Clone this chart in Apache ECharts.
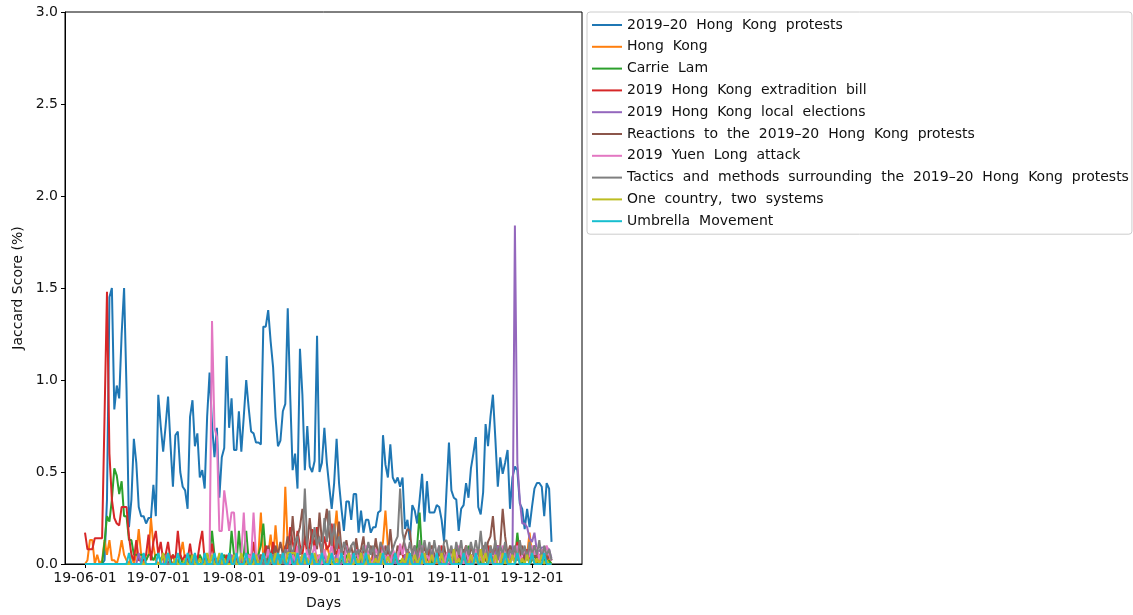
<!DOCTYPE html>
<html>
<head>
<meta charset="utf-8">
<script src="https://cdn.jsdelivr.net/npm/echarts@6/dist/echarts.min.js"></script>
<style>
html,body{margin:0;padding:0;background:#fff;}
#chart{width:1133px;height:615px;}
</style>
</head>
<body>
<div id="chart"></div>
<script>
// Day index 0 = 2019-06-01
const tickDays = [0, 30, 61, 92, 122, 153, 183];
const tickLabels = ['19-06-01', '19-07-01', '19-08-01', '19-09-01', '19-10-01', '19-11-01', '19-12-01'];
const yTicks = ['0.0', '0.5', '1.0', '1.5', '2.0', '2.5', '3.0'];

const seriesNames = [
  '2019–20 Hong Kong protests',
  'Hong Kong',
  'Carrie Lam',
  '2019 Hong Kong extradition bill',
  '2019 Hong Kong local elections',
  'Reactions to the 2019–20 Hong Kong protests',
  '2019 Yuen Long attack',
  'Tactics and methods surrounding the 2019–20 Hong Kong protests',
  'One country, two systems',
  'Umbrella Movement'
];
const colors = ['#1f77b4', '#ff7f0e', '#2ca02c', '#d62728', '#9467bd', '#8c564b', '#e377c2', '#7f7f7f', '#bcbd22', '#17becf'];

const protests = [
  0,0,0,0,0,0,0,0,0.02,0.35,
  1.45,1.50,0.84,0.97,0.90,1.25,1.50,0.95,0.20,0.35,
  0.68,0.55,0.31,0.26,0.26,0.22,0.25,0.25,0.43,0.26,
  0.92,0.75,0.61,0.75,0.91,0.65,0.42,0.70,0.72,0.50,
  0.42,0.40,0.30,0.80,0.89,0.64,0.71,0.47,0.51,0.41,
  0.80,1.04,0.76,0.58,0.74,0.36,0.58,0.63,1.13,0.74,
  0.90,0.62,0.62,0.83,0.61,0.80,1.00,0.85,0.72,0.71,
  0.66,0.66,0.65,1.29,1.29,1.38,1.21,1.07,0.80,0.64,
  0.67,0.83,0.87,1.39,0.92,0.51,0.60,0.41,1.17,0.92,
  0.51,0.75,0.53,0.50,0.56,1.24,0.50,0.55,0.74,0.55,
  0.42,0.30,0.44,0.68,0.44,0.30,0.18,0.34,0.34,0.24,
  0.38,0.38,0.17,0.29,0.17,0.24,0.24,0.17,0.20,0.20,
  0.28,0.29,0.70,0.54,0.47,0.65,0.47,0.44,0.47,0.42,
  0.47,0.19,0.24,0.13,0.32,0.29,0.22,0.35,0.49,0.23,
  0.45,0.28,0.28,0.28,0.32,0.31,0.24,0.12,0.40,0.66,
  0.40,0.36,0.35,0.18,0.30,0.32,0.44,0.36,0.52,0.60,
  0.69,0.31,0.27,0.39,0.76,0.64,0.80,0.92,0.68,0.42,
  0.58,0.49,0.55,0.62,0.30,0.47,0.53,0.51,0.33,0.30,
  0.19,0.30,0.20,0.31,0.41,0.44,0.44,0.42,0.26,0.44,
  0.41,0.12
];
const hongKong = [
  0,0.02,0.13,0.13,0,0.05,0,0.02,0.13,0.05,
  0.13,0.02,0.02,0,0.05,0.13,0.05,0.02,0,0.05,
  0,0.05,0.19,0.05,0,0.02,0.05,0.25,0.1,0.02,
  0,0.02,0.05,0,0.03,0.02,0.05,0,0.02,0.05,
  0.12,0.02,0,0.03,0.05,0,0.02,0.05,0,0.02,
  0,0.05,0.02,0,0.03,0,0.02,0.05,0.02,0,
  0.03,0.05,0.02,0,0.05,0.02,0,0.05,0.05,0.02,
  0,0.05,0.28,0.03,0,0.05,0.16,0.02,0.21,0.05,
  0,0.02,0.42,0.1,0.02,0,0.05,0.02,0,0.05,
  0.02,0,0.05,0.03,0.02,0.05,0,0.02,0.05,0.1,
  0.05,0.02,0.15,0.29,0.1,0.02,0,0.05,0.02,0,
  0.05,0.02,0,0.03,0.02,0.05,0,0.02,0.05,0,
  0.02,0.05,0.12,0.29,0.1,0.02,0,0.05,0.02,0,
  0.03,0.05,0,0.02,0.05,0,0.02,0.05,0,0.02,
  0.05,0,0.02,0.05,0,0.03,0.02,0,0.05,0.02,
  0,0.05,0.02,0,0.03,0.05,0,0.02,0.05,0,
  0.02,0.05,0,0.03,0.02,0.05,0.1,0.02,0,0.05,
  0.02,0,0.05,0.03,0,0.05,0.02,0.1,0.05,0,
  0.02,0.05,0.17,0.05,0.02,0,0.05,0.02,0,0.05,
  0.02,0
];
const carrieLam = [
  0,0,0,0,0,0,0,0,0.12,0.26,
  0.23,0.35,0.52,0.48,0.38,0.45,0.26,0.26,0.13,0.13,
  0.05,0.05,0.05,0.05,0.05,0.02,0.05,0.05,0.02,0.05,
  0.05,0.02,0.05,0.05,0,0.02,0.05,0.02,0,0.05,
  0,0.02,0,0.05,0,0.02,0,0.05,0.02,0,
  0.02,0.05,0.18,0.05,0,0.02,0,0.05,0.02,0,
  0.18,0.05,0,0.18,0.02,0.05,0.18,0.02,0,0.05,
  0.02,0.05,0.1,0.22,0.05,0.02,0,0.1,0.02,0,
  0.05,0.02,0,0.05,0.02,0,0.05,0,0.02,0.05,
  0,0.02,0.05,0,0.02,0,0.05,0.02,0,0.02,
  0.05,0,0.02,0.05,0,0.02,0,0.05,0.02,0,
  0.02,0.05,0,0.02,0,0.05,0.02,0,0.03,0,
  0.05,0.02,0,0.02,0.05,0,0.02,0.05,0,0.02,
  0,0.05,0.02,0,0.05,0.02,0.1,0.28,0.05,0,
  0.02,0.05,0,0.02,0.05,0,0.02,0,0.05,0.02,
  0,0.05,0.02,0,0.02,0.05,0,0.1,0.02,0,
  0.05,0.02,0,0.05,0.02,0,0.05,0.02,0,0.05,
  0.02,0,0.05,0.02,0.05,0.1,0.02,0.17,0.05,0,
  0.02,0.05,0,0.02,0.05,0.02,0,0.05,0.02,0,
  0.02,0
];
const extraditionBill = [
  0.17,0.08,0.08,0.08,0.14,0.14,0.14,0.14,0.8,1.48,
  0.6,0.35,0.25,0.22,0.21,0.31,0.31,0.31,0.15,0.05,
  0.02,0.13,0.02,0.02,0.02,0.05,0.16,0.02,0.12,0.18,
  0.05,0.12,0.02,0.05,0.12,0.02,0.05,0.02,0.18,0.05,
  0.02,0.05,0.02,0.11,0.02,0.05,0.02,0.11,0.18,0.02,
  0.05,0.02,0.11,0.02,0,0.05,0.02,0,0.05,0.02,
  0,0.05,0.02,0,0.05,0,0.02,0.05,0,0.12,
  0.02,0,0.05,0.02,0.1,0.05,0,0.12,0.05,0.02,
  0.05,0.02,0.1,0.05,0.2,0.12,0.05,0.18,0.1,0.05,
  0.15,0.05,0.1,0.19,0.08,0.2,0.12,0.05,0.15,0.08,
  0.1,0.22,0.08,0.05,0.12,0.05,0.02,0.1,0.05,0.02,
  0.05,0.1,0.02,0.05,0.08,0.02,0.05,0,0.02,0.05,
  0.02,0.1,0.05,0.02,0.08,0.05,0,0.05,0.02,0.1,
  0.05,0.02,0.08,0.05,0.02,0,0.05,0.1,0.02,0.05,
  0.02,0.08,0.05,0,0.02,0.05,0.1,0.02,0.05,0.08,
  0.02,0.05,0,0.08,0.02,0.05,0.1,0.02,0.05,0,
  0.05,0.02,0.08,0.05,0.02,0.1,0.05,0.02,0.08,0.1,
  0.05,0.02,0.1,0.05,0.02,0.08,0.05,0.12,0.05,0.02,
  0.05,0.08,0.02,0.05,0.1,0.05,0.02,0.08,0.05,0.02,
  0.05,0.02
];
const localElections = [
  0,0,0,0,0,0,0,0,0,0,
  0,0,0,0,0,0,0,0,0,0,
  0,0,0.06,0,0,0,0,0,0,0,
  0,0,0,0.05,0,0,0,0,0,0,
  0,0,0,0,0,0.03,0,0,0,0,
  0,0,0,0,0,0,0,0,0,0.03,
  0.05,0,0,0,0.03,0,0,0.05,0,0,
  0,0.05,0,0,0,0,0.03,0.05,0,0,
  0,0.03,0,0,0,0.05,0,0,0.03,0,
  0,0,0.05,0,0,0.02,0,0,0.05,0,
  0.02,0,0,0.05,0,0,0.03,0,0,0.05,
  0,0.02,0,0,0.05,0,0,0.02,0,0,
  0.05,0,0,0.03,0,0,0.05,0,0.02,0,
  0,0.05,0,0,0.02,0,0.05,0,0,0.03,
  0,0,0.05,0,0.02,0,0,0.05,0,0,
  0.03,0,0.1,0.05,0,0.02,0,0.05,0,0,
  0.03,0,0.05,0,0.08,0,0.02,0,0.05,0.1,
  0,0.05,0.02,0,0.05,0.02,1.84,0.55,0.35,0.22,
  0.22,0.20,0.14,0.12,0.17,0.07,0.07,0.09,0.09,0.09,
  0.08,0.03
];
const reactions = [
  0,0,0,0,0,0,0,0,0,0,
  0,0,0,0,0,0,0,0,0,0,
  0,0,0,0,0,0,0,0,0,0,
  0,0,0,0,0,0.02,0,0,0,0,
  0,0,0,0.03,0,0,0,0,0.02,0,
  0,0,0,0,0.02,0,0,0.03,0,0,
  0,0.03,0,0,0,0.02,0,0,0.05,0,
  0.03,0,0.05,0,0.02,0.1,0.05,0.03,0.1,0.05,
  0.12,0.05,0.08,0.15,0.05,0.26,0.1,0.15,0.2,0.3,
  0.15,0.1,0.25,0.12,0.18,0.08,0.28,0.12,0.2,0.3,
  0.15,0.1,0.05,0.12,0.23,0.08,0.05,0.13,0.05,0.1,
  0.02,0.14,0.05,0.08,0.15,0.02,0.05,0.1,0.02,0.14,
  0.05,0.08,0.02,0.1,0.05,0.19,0.05,0.02,0.1,0.05,
  0.08,0.15,0.19,0.18,0.05,0.1,0.02,0.08,0.05,0.1,
  0.02,0.05,0.1,0.05,0.02,0.08,0.05,0.1,0.02,0.05,
  0.08,0.02,0.1,0.05,0.02,0.08,0.05,0.02,0.1,0.05,
  0.02,0.08,0.05,0.1,0.05,0.12,0.15,0.26,0.1,0.05,
  0.1,0.3,0.15,0.05,0.1,0.05,0.08,0.02,0.05,0.1,
  0.02,0.05,0.08,0.02,0.05,0.03,0.05,0.02,0.08,0.02,
  0.05,0.02
];
const yuenLong = [
  0,0,0,0,0,0,0,0,0,0,
  0,0,0,0,0,0,0,0,0,0,
  0,0,0,0,0,0,0,0,0,0,
  0,0,0,0,0,0,0,0,0,0,
  0,0,0,0,0,0,0,0,0,0,
  0,0.03,1.32,0.74,0.69,0.18,0.18,0.40,0.30,0.18,
  0.28,0.28,0.05,0.02,0.05,0.28,0.02,0.05,0.02,0.28,
  0.05,0.02,0,0.05,0.02,0.08,0,0.05,0.02,0,
  0.05,0,0.02,0.08,0,0.05,0.02,0.1,0,0.05,
  0.02,0.08,0,0.05,0.1,0.02,0.05,0,0.08,0.02,
  0.05,0.1,0.02,0,0.08,0.05,0,0.1,0.02,0.05,
  0,0.08,0.02,0.05,0,0.1,0.05,0,0.02,0.08,
  0.05,0,0.1,0.02,0.05,0,0.08,0.05,0.02,0.11,
  0.05,0.11,0.02,0.05,0,0.08,0.02,0.05,0.1,0,
  0.05,0.02,0.08,0,0.05,0.1,0.02,0,0.05,0.08,
  0,0.05,0.02,0.1,0.05,0,0.08,0.02,0.05,0,
  0.08,0.02,0.05,0,0.1,0.05,0.02,0.08,0,0.05,
  0.02,0.1,0.05,0,0.08,0.02,0.05,0.1,0.02,0.05,
  0.08,0.02,0.05,0.1,0.05,0.09,0.02,0.08,0.05,0.1,
  0.05,0.02
];
const tactics = [
  0,0,0,0,0,0,0,0,0,0,
  0,0,0,0,0,0,0,0,0,0,
  0,0,0,0,0,0,0,0,0,0,
  0,0,0,0,0,0,0,0,0,0,
  0,0,0,0,0,0,0,0,0,0,
  0,0,0,0,0,0,0,0,0,0,
  0,0,0,0,0,0,0,0.02,0,0,
  0,0.02,0,0,0.03,0,0,0.05,0,0.03,
  0.05,0,0.08,0.05,0.1,0.05,0.12,0.15,0.05,0.1,
  0.41,0.1,0.05,0.12,0.2,0.1,0.15,0.05,0.25,0.12,
  0.29,0.1,0.22,0.08,0.15,0.05,0.12,0.08,0.05,0.1,
  0.12,0.05,0.08,0.02,0.1,0.05,0.12,0.05,0.1,0.02,
  0.05,0.12,0.08,0.05,0.1,0.05,0.08,0.12,0.15,0.41,
  0.17,0.1,0.05,0.12,0.05,0.1,0.02,0.13,0.05,0.13,
  0.05,0.12,0.02,0.13,0.05,0.1,0.02,0.12,0.13,0.05,
  0.1,0.02,0.12,0.05,0.13,0.02,0.1,0.05,0.12,0.05,
  0.13,0.05,0.18,0.05,0.12,0.02,0.1,0.05,0.13,0.02,
  0.1,0.05,0.12,0.02,0.08,0.05,0.1,0.02,0.13,0.05,
  0.1,0.02,0.12,0.05,0.1,0.05,0.13,0.02,0.1,0.05,
  0.08,0.02
];
const oneCountry = [
  0,0,0,0,0,0,0,0,0,0,
  0,0,0,0,0,0,0,0,0,0,
  0,0,0,0,0,0,0,0,0,0,
  0,0,0.06,0,0.06,0,0,0.03,0,0,
  0,0.03,0,0,0.05,0,0,0.03,0,0,
  0.06,0,0.05,0,0,0.06,0,0.03,0,0,
  0,0.05,0,0,0.06,0,0,0.03,0,0,
  0.05,0,0,0.06,0,0,0.03,0,0.06,0,
  0,0.05,0,0.06,0.06,0.06,0.06,0,0,0.05,
  0,0.03,0,0,0.06,0,0,0.05,0,0,
  0.06,0,0,0.03,0,0.05,0,0,0.06,0,
  0,0.03,0,0.06,0,0,0.05,0,0,0.03,
  0,0.06,0,0,0.04,0,0,0.06,0,0,
  0.03,0,0.06,0,0,0.05,0,0.03,0,0.06,
  0,0,0.05,0,0.03,0,0.06,0,0,0.05,
  0,0.08,0,0.03,0,0.06,0,0,0.05,0,
  0.03,0,0.08,0,0.06,0,0.03,0,0.05,0,
  0,0.06,0,0.03,0,0.05,0,0.06,0,0.03,
  0,0.05,0,0.06,0,0.03,0,0.05,0,0.02,
  0,0
];
const umbrella = [
  0,0,0,0,0,0,0,0,0,0,
  0,0,0,0,0,0,0,0,0.06,0,
  0,0,0,0,0.06,0,0,0,0,0,
  0.06,0,0,0,0.06,0,0,0,0.06,0,
  0,0,0.06,0,0,0.06,0,0,0,0.06,
  0,0,0,0.06,0,0,0.06,0,0,0.06,
  0,0,0.06,0,0,0,0.06,0,0,0.06,
  0,0,0,0.06,0,0,0.06,0,0,0.06,
  0,0.06,0,0,0.06,0,0,0.06,0,0,
  0.06,0,0,0.06,0,0,0,0.06,0,0,
  0,0.06,0,0,0,0.06,0,0,0,0,
  0.06,0,0,0,0,0.06,0,0,0,0,
  0,0,0.06,0,0,0,0,0.06,0,0,
  0,0,0,0.06,0,0,0,0,0.06,0,
  0,0,0,0,0.06,0,0,0,0,0.06,
  0,0,0,0,0,0.06,0,0,0,0,
  0.06,0,0,0,0,0,0.06,0,0,0,
  0,0,0.06,0,0,0,0,0.06,0,0,
  0,0,0,0.06,0,0,0,0,0.06,0,
  0,0
];

const allValues = [protests, hongKong, carrieLam, extraditionBill, localElections, reactions, yuenLong, tactics, oneCountry, umbrella];

const chart = echarts.init(document.getElementById('chart'), null, {renderer: 'canvas'});
const FONT = 'DejaVu Sans';
const TXT = '#111';

const series = allValues.map((vals, k) => ({
  name: seriesNames[k],
  type: 'line',
  data: vals.map((v, i) => [i, v]),
  symbol: 'none',
  showSymbol: false,
  lineStyle: {width: 2, color: colors[k]},
  itemStyle: {color: colors[k]},
  z: 2 + k,
  animation: false
}));

chart.setOption({
  animation: false,
  backgroundColor: '#fff',
  textStyle: {fontFamily: FONT},
  grid: {left: 65, right: 551, top: 12, bottom: 47, show: true, borderColor: '#000', borderWidth: 1, backgroundColor: 'transparent'},
  xAxis: {
    type: 'value',
    min: -8.19,
    max: 203.47,
    name: 'Days',
    nameLocation: 'middle',
    nameGap: 32,
    nameTextStyle: {fontFamily: FONT, fontSize: 14, color: TXT},
    axisLine: {show: true, onZero: false, lineStyle: {color: '#000', width: 1}},
    axisTick: {show: true, length: 4, lineStyle: {color: '#000'}, customValues: tickDays},
    axisLabel: {
      customValues: tickDays,
      fontFamily: FONT, fontSize: 14, color: TXT, margin: 7,
      formatter: function (v) { const i = tickDays.indexOf(v); return i >= 0 ? tickLabels[i] : ''; }
    },
    splitLine: {show: false}
  },
  yAxis: {
    type: 'value',
    min: 0,
    max: 3,
    interval: 0.5,
    name: 'Jaccard Score (%)',
    nameLocation: 'middle',
    nameGap: 40,
    nameTextStyle: {fontFamily: FONT, fontSize: 14, color: TXT},
    axisLine: {show: true, onZero: false, lineStyle: {color: '#000', width: 1}},
    axisTick: {show: true, length: 4, lineStyle: {color: '#000'}},
    axisLabel: {
      fontFamily: FONT, fontSize: 14, color: TXT, margin: 7,
      formatter: function (v) { return yTicks[Math.round(v / 0.5)]; }
    },
    splitLine: {show: false}
  },
  legend: {
    orient: 'vertical',
    left: 587,
    top: 12,
    padding: [6, 3, 6, 5],
    itemWidth: 30,
    itemHeight: 14,
    itemGap: 7.8,
    backgroundColor: '#fff',
    borderColor: '#cccccc',
    borderWidth: 1,
    borderRadius: 3,
    formatter: function (name) { return name.split(' ').join('  '); },
    textStyle: {fontFamily: FONT, fontSize: 14, color: TXT},
    data: seriesNames.map((n, k) => ({name: n, icon: 'path://M0,6 L30,6 L30,8 L0,8 Z', itemStyle: {color: colors[k]}}))
  },
  series: series
});
</script>
</body>
</html>
